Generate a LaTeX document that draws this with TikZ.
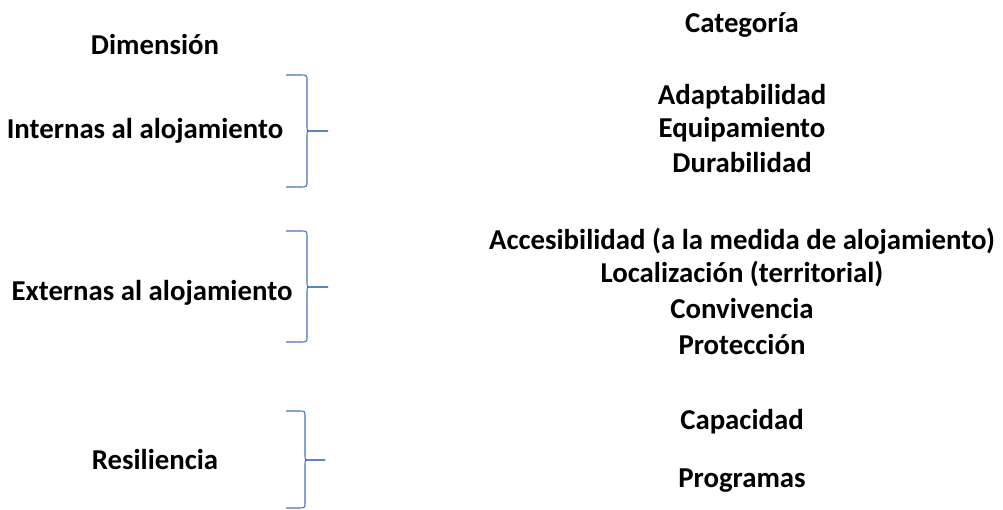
\documentclass[tikz,border=0pt]{standalone}
\usepackage{fontspec}
\setmainfont{Carlito}
\begin{document}
\begin{tikzpicture}[x=1pt,y=-1pt,
  lbl/.style={font=\fontsize{28.8}{32}\selectfont\bfseries, inner sep=0pt, anchor=center},
  brace/.style={draw={rgb,255:red,68;green,114;blue,196}, line width=1.1pt}]
\useasboundingbox (0,0) rectangle (1003,510);
\node[lbl] (dim) at (155,45) {Dimensión};
\node[lbl] (cat) at (742,25) {Categoría};
\node[lbl] (int) at (145,131) {Internas al alojamiento};
\node[lbl] (ext) at (152,293) {Externas al alojamiento};
\node[lbl] (res) at (155,459) {Resiliencia};
\node[lbl] (c1) at (742,97) {Adaptabilidad};
\node[lbl] (c2) at (742,130) {Equipamiento};
\node[lbl] (c3) at (742,163) {Durabilidad};
\node[lbl] (c4) at (742,241) {Accesibilidad (a la medida de alojamiento)};
\node[lbl] (c5) at (742,274) {Localización (territorial)};
\node[lbl] (c6) at (742,309) {Convivencia};
\node[lbl] (c7) at (742,345) {Protección};
\node[lbl] (c8) at (742,422) {Capacidad};
\node[lbl] (c9) at (742,481) {Programas};
\coordinate (b1) at (328,131);
\coordinate (b2) at (328,287);
\coordinate (b3) at (325,460);
\draw[brace]
  (286,75) -- (302,75) .. controls (307,75) and (307,76) .. (307,80) -- (307,126)
  .. controls (307,131) .. (312,131) -- (b1);
\draw[brace]
  (b1) -- (312,131) .. controls (307,131) .. (307,136) -- (307,182)
  .. controls (307,186) and (307,187) .. (302,187) -- (286,187);
\draw[brace]
  (286,231) -- (302,231) .. controls (307,231) and (307,232) .. (307,236) -- (307,282)
  .. controls (307,287) .. (312,287) -- (b2);
\draw[brace]
  (b2) -- (312,287) .. controls (307,287) .. (307,292) -- (307,337)
  .. controls (307,341) and (307,342) .. (302,342) -- (286,342);
\draw[brace]
  (286,411) -- (300,411) .. controls (305,411) and (305,412) .. (305,416) -- (305,455)
  .. controls (305,460) .. (310,460) -- (b3);
\draw[brace]
  (b3) -- (310,460) .. controls (305,460) .. (305,465) -- (305,503)
  .. controls (305,507) and (305,508) .. (300,508) -- (286,508);
\end{tikzpicture}
\end{document}
